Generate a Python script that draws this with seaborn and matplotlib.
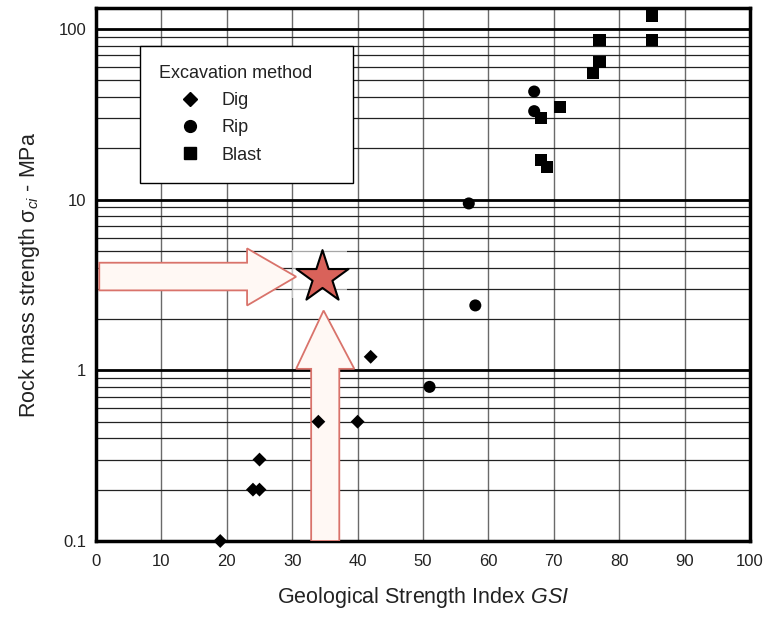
import matplotlib
matplotlib.use("Agg")
import matplotlib.pyplot as plt
import seaborn as sns
import pandas as pd
import numpy as np
from matplotlib.lines import Line2D
from matplotlib.patches import Polygon, Rectangle
from matplotlib.ticker import FixedLocator, FuncFormatter, NullLocator, LogLocator

# ---- data ----
dig_gsi = [19, 24, 25, 25, 34, 40, 42]
dig_sigma = [0.1, 0.2, 0.2, 0.3, 0.5, 0.5, 1.2]
rip_gsi = [51, 57, 58, 67, 67]
rip_sigma = [0.8, 9.5, 2.4, 43, 33]
blast_gsi = [85, 85, 77, 77, 76, 71, 68, 68, 69]
blast_sigma = [120, 86, 86, 64, 55, 35, 30, 17, 15.5]
methods = ["Dig", "Rip", "Blast"]
star_gsi = [34.5]
star_sigma = [3.5]
x_ticks = [0, 10, 20, 30, 40, 50, 60, 70, 80, 90, 100]
y_ticks = [0.1, 1, 10, 100]
y_tick_labels = ["0.1", "1", "10", "100"]

df = pd.DataFrame({
    "GSI": dig_gsi + rip_gsi + blast_gsi,
    "sigma": dig_sigma + rip_sigma + blast_sigma,
    "method": ["Dig"] * len(dig_gsi) + ["Rip"] * len(rip_gsi) + ["Blast"] * len(blast_gsi),
})

sns.set_theme(style="white")
plt.rcParams["font.family"] = ["Liberation Sans", "DejaVu Sans"]
plt.rcParams["mathtext.fontset"] = "custom"
plt.rcParams["mathtext.rm"] = "Liberation Sans"
plt.rcParams["mathtext.it"] = "Liberation Sans:italic"

txt = "#222222"
fig = plt.figure(figsize=(7.65, 6.17), dpi=100)
ax = fig.add_axes([96 / 765, 1 - 541 / 617, 654 / 765, 533 / 617])
ax.set_yscale("log")
ax.set_xlim(0, 100)
ax.set_ylim(0.1, 10 ** (2 + 21 / 171))

markers = {"Dig": "D", "Rip": "o", "Blast": "s"}
sizes = {"Dig": 50, "Rip": 75, "Blast": 78}
for m in methods:
    sub = df[df["method"] == m]
    sns.scatterplot(data=sub, x="GSI", y="sigma", marker=markers[m], s=sizes[m],
                    color="black", edgecolor="none", linewidth=0, ax=ax,
                    legend=False, zorder=5, clip_on=False)

# grid
ax.xaxis.set_major_locator(FixedLocator(x_ticks))
ax.xaxis.set_minor_locator(NullLocator())
ax.yaxis.set_major_locator(FixedLocator(y_ticks))
ax.yaxis.set_minor_locator(LogLocator(base=10, subs=np.arange(2, 10)))
ax.yaxis.set_major_formatter(FuncFormatter(lambda v, p: y_tick_labels[y_ticks.index(v)] if v in y_ticks else ""))
ax.yaxis.set_minor_formatter(FuncFormatter(lambda v, p: ""))
ax.grid(which="major", axis="x", color="#6a6a6a", lw=1.0, zorder=0)
ax.grid(which="major", axis="y", color="black", lw=2.0, zorder=0)
ax.grid(which="minor", axis="y", color="#222222", lw=0.9, zorder=0)
ax.set_axisbelow(True)
ax.tick_params(which="both", length=0, labelsize=12, labelcolor=txt)
ax.tick_params(axis="x", pad=9)
ax.tick_params(axis="y", pad=7)
for sp in ax.spines.values():
    sp.set_color("black")
    sp.set_linewidth(2.5)

ax.set_xlabel("Geological Strength Index $\\mathit{GSI}$", fontsize=15.5, color=txt, labelpad=12)
ax.set_ylabel("Rock mass strength $\\mathregular{σ}_{\\mathit{ci}}$ - MPa", fontsize=15.5, color=txt, labelpad=12)

# annotation: white patch, arrows, star
sx, sy = star_gsi[0], star_sigma[0]
ax.add_patch(Rectangle((sx - 4.5, sy * 0.755), 8.4, sy * 1.44 - sy * 0.755,
                       facecolor="white", edgecolor="none", alpha=0.6, zorder=2))
edge = "#d9736b"
face = "#fff8f4"
# horizontal arrow pointing right to the star
h_tip = sx - 3.9
h_pts = [(0.5, sy * 1.22), (h_tip - 7.5, sy * 1.22), (h_tip - 7.5, sy * 1.48),
         (h_tip, sy * 1.01), (h_tip - 7.5, sy * 0.685), (h_tip - 7.5, sy * 0.84),
         (0.5, sy * 0.84)]
ax.add_patch(Polygon(h_pts, closed=True, facecolor=face, edgecolor=edge, lw=1.3, zorder=3))
# vertical arrow pointing up to the star
v_tip = sy * 0.64
v_pts = [(sx - 1.6, 0.1), (sx - 1.6, 1.02), (sx - 3.9, 1.02), (sx + 0.3, v_tip),
         (sx + 5.0, 1.02), (sx + 2.7, 1.02), (sx + 2.7, 0.1)]
ax.add_patch(Polygon(v_pts, closed=True, facecolor=face, edgecolor=edge, lw=1.3, zorder=3))
sns.scatterplot(x=star_gsi, y=star_sigma, marker="*", s=1550, color="#d9625a",
                edgecolor="black", linewidth=1.5, ax=ax, legend=False, zorder=6)

# legend
handles = [Line2D([], [], marker="D", color="black", ls="none", markersize=7),
           Line2D([], [], marker="o", color="black", ls="none", markersize=8.5),
           Line2D([], [], marker="s", color="black", ls="none", markersize=8.5)]
leg = ax.legend(handles, methods, title="Excavation method", loc="upper left",
                bbox_to_anchor=(0.067, 0.5, (353 - 140) / 654, 0.429), mode="expand",
                fontsize=13, title_fontsize=13,
                frameon=True, fancybox=False, framealpha=1, edgecolor="black",
                alignment="left", handlelength=3.5, handletextpad=0.0,
                labelspacing=0.57, borderpad=1.05, borderaxespad=0)
leg.get_frame().set_linewidth(1.0)
leg.set_zorder(7)
for t in leg.get_texts():
    t.set_color(txt)
leg.get_title().set_color(txt)

fig.savefig("out.png", dpi=100)
